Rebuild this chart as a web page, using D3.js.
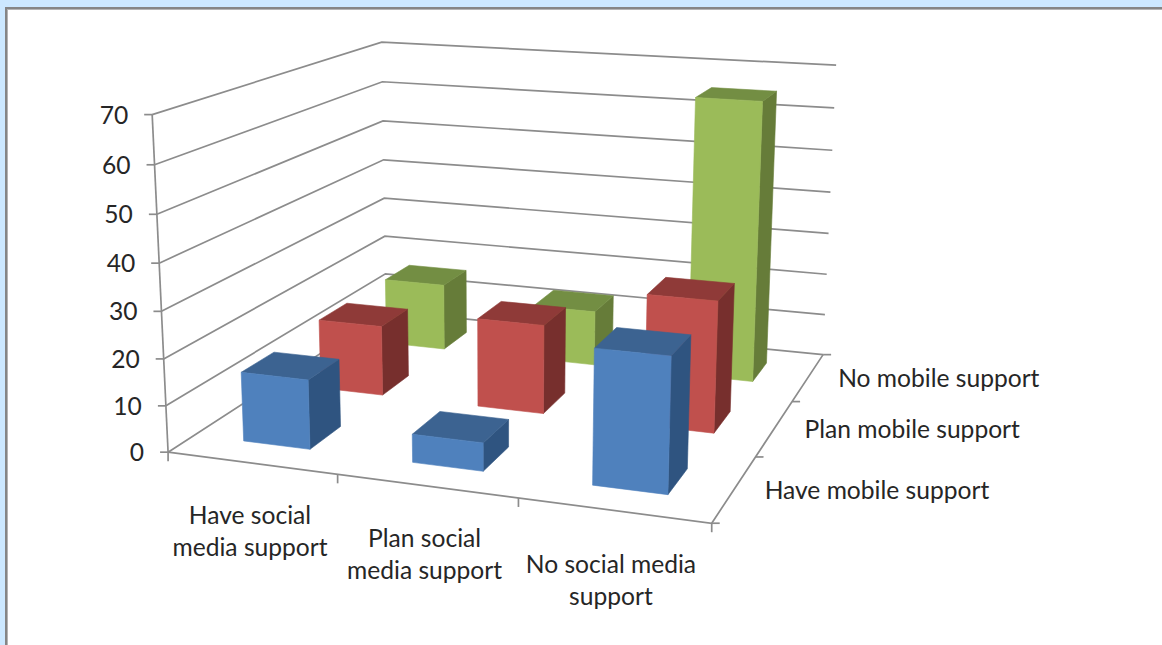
<!DOCTYPE html>
<html>
<head>
<meta charset="utf-8">
<script src="https://cdn.jsdelivr.net/npm/d3@7/dist/d3.min.js"></script>
<style>
  html, body { margin: 0; padding: 0; background: #cce8ff; overflow: hidden; }
  svg { display: block; }
  text { font-family: Lato, "Open Sans", sans-serif; fill: #262626; }
</style>
</head>
<body>
<svg id="chart" width="1162" height="645"></svg>
<script>
const socialCategories = ["Have social media support", "Plan social media support", "No social media support"];
const socialLabelLines = [["Have social", "media support"], ["Plan social", "media support"], ["No social media", "support"]];
const mobileSeries = ["Have mobile support", "Plan mobile support", "No mobile support"];
const haveMobile = [15, 6, 28];
const planMobile = [16, 20, 29];
const noMobile = [16, 13, 65];
const seriesValues = [haveMobile, planMobile, noMobile];
const valueTicks = [0, 10, 20, 30, 40, 50, 60, 70];

const frontColors = ["#4f81bd", "#c0504d", "#9bbb59"];
const topColors = ["#3c6391", "#8f3a38", "#738e43"];
const sideColors = ["#2f5480", "#772f2d", "#667c39"];
const gridColor = "#8c8c8c";
const labelSize = 24.6;

// Camera for the plot cube: unit cube corners (u, v, h) and where they land on the page.
const cubeCorners = [
  [[0, 0, 0], [168, 452]], [[1, 0, 0], [712, 523]], [[1, 1, 0], [823, 355]], [[0, 1, 0], [386, 311]],
  [[0, 0, 1], [152, 115]], [[0, 1, 1], [382, 42]], [[1, 1, 1], [836, 65]]
];

// Least-squares fit of a 3x4 projective matrix (last entry fixed at 1).
function fitCamera(pairs) {
  const A = [], b = [];
  pairs.forEach(([[u, v, h], [x, y]]) => {
    A.push([u, v, h, 1, 0, 0, 0, 0, -x * u, -x * v, -x * h]); b.push(x);
    A.push([0, 0, 0, 0, u, v, h, 1, -y * u, -y * v, -y * h]); b.push(y);
  });
  const n = 11;
  const M = d3.range(n).map(i => {
    const row = d3.range(n).map(j => d3.sum(A, r => r[i] * r[j]));
    row.push(d3.sum(A, (r, k) => r[i] * b[k]));
    return row;
  });
  for (let c = 0; c < n; c++) {
    let p = c;
    for (let r = c + 1; r < n; r++) if (Math.abs(M[r][c]) > Math.abs(M[p][c])) p = r;
    [M[c], M[p]] = [M[p], M[c]];
    for (let r = 0; r < n; r++) {
      if (r === c) continue;
      const f = M[r][c] / M[c][c];
      for (let k = c; k <= n; k++) M[r][k] -= f * M[c][k];
    }
  }
  return M.map((row, i) => row[n] / row[i]);
}

const cam = fitCamera(cubeCorners);
const project = (u, v, h) => {
  const w = cam[8] * u + cam[9] * v + cam[10] * h + 1;
  return [
    (cam[0] * u + cam[1] * v + cam[2] * h + cam[3]) / w,
    (cam[4] * u + cam[5] * v + cam[6] * h + cam[7]) / w
  ];
};

const uScale = d3.scaleBand().domain(socialCategories).range([0, 1]).paddingInner(0.6).paddingOuter(0.3);
const vScale = d3.scaleBand().domain(mobileSeries).range([0, 1]).paddingInner(0.6).paddingOuter(0.3);
const uStep = d3.scaleLinear().domain([0, socialCategories.length]).range([0, 1]);
const vStep = d3.scaleLinear().domain([0, mobileSeries.length]).range([0, 1]);
const hScale = d3.scaleLinear().domain([0, 70]).range([0, 1]);

const svg = d3.select("#chart");

// Panel behind the chart, with its dark top and left rule.
svg.append("rect").attr("width", 1162).attr("height", 645).attr("fill", "#cce8ff");
svg.append("rect").attr("x", 5).attr("y", 7).attr("width", 1157).attr("height", 638).attr("fill", "#858585");
svg.append("rect").attr("x", 7).attr("y", 9).attr("width", 1155).attr("height", 636).attr("fill", "#b4b4b4");
svg.append("rect").attr("x", 8).attr("y", 10).attr("width", 1154).attr("height", 635).attr("fill", "#ffffff");

const line = d3.line();
const stroke = (pts, width = 1.7) => svg.append("path")
  .attr("d", line(pts)).attr("fill", "none").attr("stroke", gridColor).attr("stroke-width", width);

// Wall gridlines: along the left wall, then across the back wall.
valueTicks.forEach(t => {
  const h = hScale(t);
  stroke([project(0, 0, h), project(0, 1, h), project(1, 1, h)]);
});

// Value axis with its ticks and labels.
stroke([project(0, 0, 0), project(0, 0, 1)]);
valueTicks.forEach(t => {
  const p = project(0, 0, hScale(t));
  stroke([[p[0] - 8, p[1]], p]);
  svg.append("text").attr("x", p[0] - 24).attr("y", p[1] + 9)
    .attr("text-anchor", "end").attr("font-size", labelSize).text(t);
});

// Floor edges with tick marks.
stroke([project(0, 0, 0), project(1, 0, 0), project(1, 1, 0)]);
d3.range(socialCategories.length + 1).forEach(i => {
  const p = project(uStep(i), 0, 0);
  stroke([p, [p[0], p[1] + 9]]);
});
d3.range(mobileSeries.length + 1).forEach(i => {
  const p = project(1, vStep(i), 0);
  stroke([p, [p[0] + 8, p[1]]]);
});

// Bars, back row first so nearer ones paint over them.
const face = (pts, fill) => svg.append("path")
  .attr("d", line(pts) + "Z").attr("fill", fill).attr("stroke", fill).attr("stroke-width", 0.6);

d3.range(mobileSeries.length).reverse().forEach(s => {
  socialCategories.forEach((c, i) => {
    const u0 = uScale(c), u1 = u0 + uScale.bandwidth();
    const v0 = vScale(mobileSeries[s]), v1 = v0 + vScale.bandwidth();
    const h = hScale(seriesValues[s][i]);
    face([project(u1, v0, 0), project(u1, v1, 0), project(u1, v1, h), project(u1, v0, h)], sideColors[s]);
    face([project(u0, v0, h), project(u1, v0, h), project(u1, v1, h), project(u0, v1, h)], topColors[s]);
    face([project(u0, v0, 0), project(u1, v0, 0), project(u1, v0, h), project(u0, v0, h)], frontColors[s]);
  });
});

// Category labels under the front edge; each sits a little lower than the last.
socialCategories.forEach((c, i) => {
  const p = project(uStep(i + 0.5), 0, 0);
  const t = svg.append("text").attr("text-anchor", "middle").attr("font-size", labelSize);
  socialLabelLines[i].forEach((ln, k) => {
    t.append("tspan").attr("x", p[0] - 1.5 - i * 0.5).attr("y", p[1] + 61 + (i === 2 ? 2 : 0) + k * 32).text(ln);
  });
});

// Series labels beside the right floor edge.
mobileSeries.forEach((m, i) => {
  const p = project(1, vStep(i + 0.5), 0);
  svg.append("text").attr("x", p[0] + 30).attr("y", p[1] + 10).attr("font-size", labelSize).text(m);
});
</script>
</body>
</html>
